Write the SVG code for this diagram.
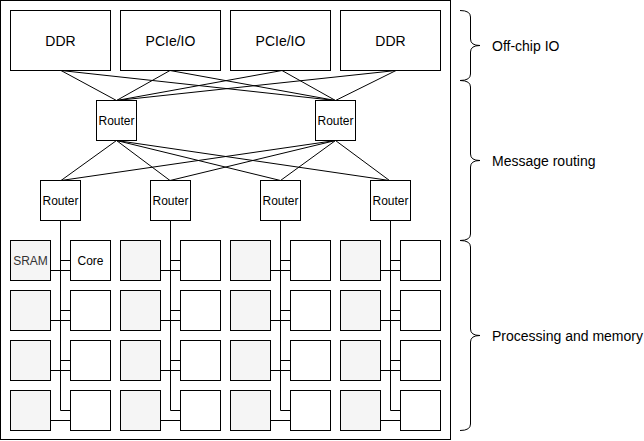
<svg xmlns="http://www.w3.org/2000/svg" width="644" height="441" viewBox="0 0 644 441">
<style>
  .box { fill: #ffffff; stroke: #000000; stroke-width: 1; }
  .sram { fill: #f5f5f5; stroke: #000000; stroke-width: 1; }
  .frame { fill: #ffffff; stroke: #000000; stroke-width: 1; }
  .edge { fill: none; stroke: #000000; stroke-width: 1; }
  .brace { fill: none; stroke: #000000; stroke-width: 1; }
  text { font-family: "Liberation Sans", Arial, Helvetica, sans-serif; fill: #000000; }
  .t14 { font-size: 14px; text-anchor: middle; dominant-baseline: central; }
  .t12 { font-size: 12px; text-anchor: middle; dominant-baseline: central; }
  .ts { font-size: 12px; text-anchor: middle; dominant-baseline: central; fill: #333333; }
  .lbl { font-size: 14px; dominant-baseline: central; }
</style>
<rect width="644" height="441" fill="#ffffff"/>
<rect id="chip" class="frame" x="0.5" y="0.5" width="450" height="439"/>

<g id="connectors">
  <!-- off-chip IO to top routers -->
  <path class="edge" d="M61,70.5 L116.5,100.5 M61,70.5 L335.5,100.5"/>
  <path class="edge" d="M170,70.5 L116.5,100.5 M170,70.5 L335.5,100.5"/>
  <path class="edge" d="M282,70.5 L116.5,100.5 M282,70.5 L335.5,100.5"/>
  <path class="edge" d="M396,70.5 L116.5,100.5 M396,70.5 L335.5,100.5"/>
  <!-- top routers to lower routers -->
  <path class="edge" d="M116.5,140.5 L61,180.5 M116.5,140.5 L170,180.5 M116.5,140.5 L280.5,180.5 M116.5,140.5 L389.5,180.5"/>
  <path class="edge" d="M335.5,140.5 L61,180.5 M335.5,140.5 L170,180.5 M335.5,140.5 L280.5,180.5 M335.5,140.5 L389.5,180.5"/>
  <!-- column buses -->
  <path class="edge" d="M60.5,220.5 V410.5 H70.5 M60.5,260.5 H70.5 M60.5,310.5 H70.5 M60.5,360.5 H70.5"/>
  <path class="edge" d="M170.5,220.5 V410.5 H180.5 M170.5,260.5 H180.5 M170.5,310.5 H180.5 M170.5,360.5 H180.5"/>
  <path class="edge" d="M280.5,220.5 V410.5 H290.5 M280.5,260.5 H290.5 M280.5,310.5 H290.5 M280.5,360.5 H290.5"/>
  <path class="edge" d="M390.5,220.5 V410.5 H400.5 M390.5,260.5 H400.5 M390.5,310.5 H400.5 M390.5,360.5 H400.5"/>
  <!-- SRAM to core links -->
  <path class="edge" d="M50.5,270.5 H70.5 M50.5,320.5 H70.5 M50.5,370.5 H70.5 M50.5,420.5 H70.5"/>
  <path class="edge" d="M160.5,270.5 H180.5 M160.5,320.5 H180.5 M160.5,370.5 H180.5 M160.5,420.5 H180.5"/>
  <path class="edge" d="M270.5,270.5 H290.5 M270.5,320.5 H290.5 M270.5,370.5 H290.5 M270.5,420.5 H290.5"/>
  <path class="edge" d="M380.5,270.5 H400.5 M380.5,320.5 H400.5 M380.5,370.5 H400.5 M380.5,420.5 H400.5"/>
</g>

<g id="io-ddr-1"><rect class="box" x="10.5" y="10.5" width="100" height="60"/><text class="t14" x="60.5" y="40.5">DDR</text></g>
<g id="io-pcie-1"><rect class="box" x="120.5" y="10.5" width="100" height="60"/><text class="t14" x="170.5" y="40.5">PCIe/IO</text></g>
<g id="io-pcie-2"><rect class="box" x="230.5" y="10.5" width="100" height="60"/><text class="t14" x="280.5" y="40.5">PCIe/IO</text></g>
<g id="io-ddr-2"><rect class="box" x="340.5" y="10.5" width="100" height="60"/><text class="t14" x="390.5" y="40.5">DDR</text></g>

<g id="router-top-1"><rect class="box" x="96.5" y="100.5" width="40" height="40"/><text class="t12" x="116.5" y="120.5">Router</text></g>
<g id="router-top-2"><rect class="box" x="315.5" y="100.5" width="40" height="40"/><text class="t12" x="335.5" y="120.5">Router</text></g>

<g id="router-1"><rect class="box" x="40.5" y="180.5" width="40" height="40"/><text class="t12" x="60.5" y="200.5">Router</text></g>
<g id="router-2"><rect class="box" x="150.5" y="180.5" width="40" height="40"/><text class="t12" x="170.5" y="200.5">Router</text></g>
<g id="router-3"><rect class="box" x="260.5" y="180.5" width="40" height="40"/><text class="t12" x="280.5" y="200.5">Router</text></g>
<g id="router-4"><rect class="box" x="370.5" y="180.5" width="40" height="40"/><text class="t12" x="390.5" y="200.5">Router</text></g>

<!-- tiles: row 1 -->
<g id="sram-1-1"><rect class="sram" x="10.5" y="240.5" width="40" height="40"/><text class="ts" x="30.5" y="260.5">SRAM</text></g>
<g id="core-1-1"><rect class="box" x="70.5" y="240.5" width="40" height="40"/><text class="t12" x="90.5" y="260.5">Core</text></g>
<g id="sram-1-2"><rect class="sram" x="120.5" y="240.5" width="40" height="40"/></g>
<g id="core-1-2"><rect class="box" x="180.5" y="240.5" width="40" height="40"/></g>
<g id="sram-1-3"><rect class="sram" x="230.5" y="240.5" width="40" height="40"/></g>
<g id="core-1-3"><rect class="box" x="290.5" y="240.5" width="40" height="40"/></g>
<g id="sram-1-4"><rect class="sram" x="340.5" y="240.5" width="40" height="40"/></g>
<g id="core-1-4"><rect class="box" x="400.5" y="240.5" width="40" height="40"/></g>
<!-- row 2 -->
<g id="sram-2-1"><rect class="sram" x="10.5" y="290.5" width="40" height="40"/></g>
<g id="core-2-1"><rect class="box" x="70.5" y="290.5" width="40" height="40"/></g>
<g id="sram-2-2"><rect class="sram" x="120.5" y="290.5" width="40" height="40"/></g>
<g id="core-2-2"><rect class="box" x="180.5" y="290.5" width="40" height="40"/></g>
<g id="sram-2-3"><rect class="sram" x="230.5" y="290.5" width="40" height="40"/></g>
<g id="core-2-3"><rect class="box" x="290.5" y="290.5" width="40" height="40"/></g>
<g id="sram-2-4"><rect class="sram" x="340.5" y="290.5" width="40" height="40"/></g>
<g id="core-2-4"><rect class="box" x="400.5" y="290.5" width="40" height="40"/></g>
<!-- row 3 -->
<g id="sram-3-1"><rect class="sram" x="10.5" y="340.5" width="40" height="40"/></g>
<g id="core-3-1"><rect class="box" x="70.5" y="340.5" width="40" height="40"/></g>
<g id="sram-3-2"><rect class="sram" x="120.5" y="340.5" width="40" height="40"/></g>
<g id="core-3-2"><rect class="box" x="180.5" y="340.5" width="40" height="40"/></g>
<g id="sram-3-3"><rect class="sram" x="230.5" y="340.5" width="40" height="40"/></g>
<g id="core-3-3"><rect class="box" x="290.5" y="340.5" width="40" height="40"/></g>
<g id="sram-3-4"><rect class="sram" x="340.5" y="340.5" width="40" height="40"/></g>
<g id="core-3-4"><rect class="box" x="400.5" y="340.5" width="40" height="40"/></g>
<!-- row 4 -->
<g id="sram-4-1"><rect class="sram" x="10.5" y="390.5" width="40" height="40"/></g>
<g id="core-4-1"><rect class="box" x="70.5" y="390.5" width="40" height="40"/></g>
<g id="sram-4-2"><rect class="sram" x="120.5" y="390.5" width="40" height="40"/></g>
<g id="core-4-2"><rect class="box" x="180.5" y="390.5" width="40" height="40"/></g>
<g id="sram-4-3"><rect class="sram" x="230.5" y="390.5" width="40" height="40"/></g>
<g id="core-4-3"><rect class="box" x="290.5" y="390.5" width="40" height="40"/></g>
<g id="sram-4-4"><rect class="sram" x="340.5" y="390.5" width="40" height="40"/></g>
<g id="core-4-4"><rect class="box" x="400.5" y="390.5" width="40" height="40"/></g>

<g id="brace-io">
  <path class="brace" d="M460,10.5 Q470.5,10.5 470.5,17 L470.5,39 Q470.5,45.5 480,45.5 Q470.5,45.5 470.5,52 L470.5,74 Q470.5,80.5 460,80.5"/>
  <text class="lbl" x="492" y="45.5">Off-chip IO</text>
</g>
<g id="brace-routing">
  <path class="brace" d="M460,80.5 Q470.5,80.5 470.5,87 L470.5,154 Q470.5,160.5 480,160.5 Q470.5,160.5 470.5,167 L470.5,234 Q470.5,240.5 460,240.5"/>
  <text class="lbl" x="492" y="160.5">Message routing</text>
</g>
<g id="brace-processing">
  <path class="brace" d="M460,240.5 Q470.5,240.5 470.5,247 L470.5,329 Q470.5,335.5 480,335.5 Q470.5,335.5 470.5,342 L470.5,424 Q470.5,430.5 460,430.5"/>
  <text class="lbl" x="492" y="335.5">Processing and memory</text>
</g>
</svg>
